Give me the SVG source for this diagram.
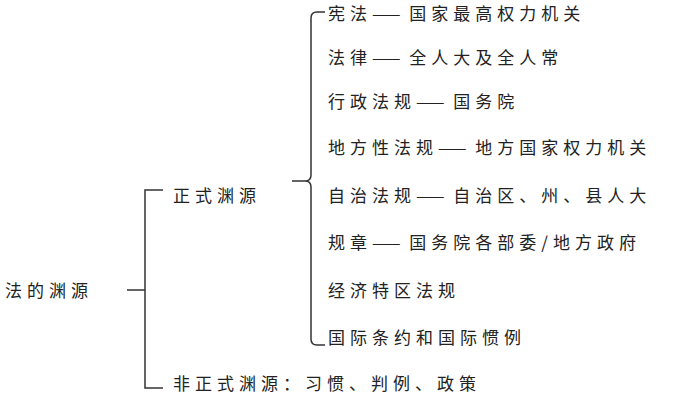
<svg xmlns="http://www.w3.org/2000/svg" width="700" height="400" viewBox="0 0 700 400">
<style>
text{font-family:"Noto Sans CJK SC","Noto Sans",sans-serif;font-size:17px;letter-spacing:5px;fill:#222}
.d{letter-spacing:0}
.l{fill:none;stroke:#333;stroke-width:1.5}
</style>
<rect width="700" height="400" fill="#fff"/>
<g id="connectors">
<path class="l" d="M127 290H145M163 190H145V388H163"/>
<path class="l" d="M292 181H305Q311 181 311 175V18Q311 12 317 12H325M305 181Q311 181 311 187V339Q311 345 317 345H325"/>
</g>
<g id="root"><text x="5" y="297">法的渊源</text></g>
<g id="formal"><text x="173" y="202">正式渊源</text></g>
<g id="informal"><text x="173" y="390">非正式渊源：习惯、判例、政策</text></g>
<g id="i1"><text x="328" y="20">宪法<tspan class="d">——</tspan> 国家最高权力机关</text></g>
<g id="i2"><text x="328" y="64">法律<tspan class="d">——</tspan> 全人大及全人常</text></g>
<g id="i3"><text x="328" y="108">行政法规<tspan class="d">——</tspan> 国务院</text></g>
<g id="i4"><text x="328" y="154">地方性法规<tspan class="d">——</tspan> 地方国家权力机关</text></g>
<g id="i5"><text x="328" y="202">自治法规<tspan class="d">——</tspan> 自治区、州、县人大</text></g>
<g id="i6"><text x="328" y="249">规章<tspan class="d">——</tspan> 国务院各部委/地方政府</text></g>
<g id="i7"><text x="328" y="297">经济特区法规</text></g>
<g id="i8"><text x="328" y="344">国际条约和国际惯例</text></g>
</svg>
